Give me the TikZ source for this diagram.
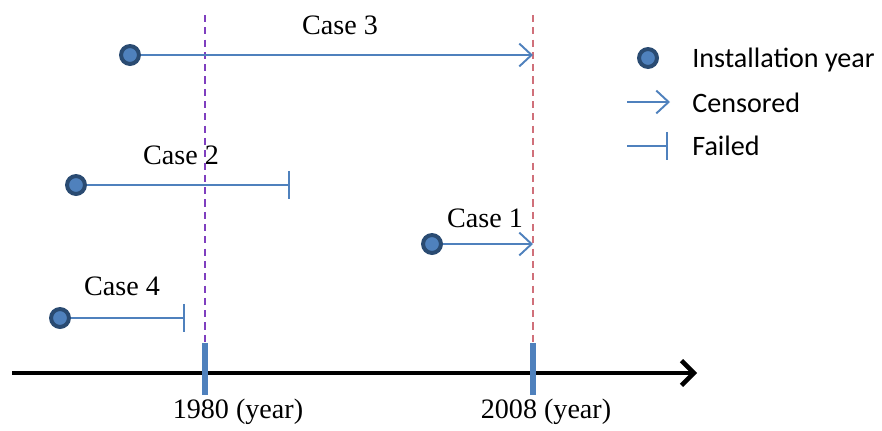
\documentclass[tikz,border=0pt]{standalone}
\usepackage{fontspec}
\setmainfont{Liberation Serif}
\newfontfamily\legendfont{Carlito}
\usetikzlibrary{arrows.meta}
\definecolor{lineblue}{HTML}{4F81BD}
\definecolor{rimblue}{HTML}{2A4B72}
\definecolor{dashpurple}{HTML}{7F3FBF}
\definecolor{dashred}{HTML}{D0707A}
\begin{document}
\begin{tikzpicture}[x=0.02cm,y=-0.02cm,
	inst/.style = {circle, draw=rimblue, fill=lineblue, line width=4*0.567pt, minimum size=18*0.567pt, inner sep=0pt},
	censor/.style = {draw=lineblue, line width=1.3pt, -{Straight Barb[length=7pt,width=13pt,line width=1.1pt]}},
	failed/.style = {draw=lineblue, line width=0.8pt, -{Bar[width=16pt,line width=1.1pt]}},
	case/.style = {font=\fontsize{16}{19}\selectfont, inner sep=0pt},
	legend/.style = {font=\legendfont\fontsize{16}{19}\selectfont, anchor=west, inner sep=0pt},
	year/.style = {dash pattern=on 4pt off 3pt, line width=0.7pt},
	tick/.style = {draw=lineblue, line width=3pt}]
	\useasboundingbox (0,0) rectangle (882,430);
	
	% reference years
	\coordinate (y1top) at (205,15);
	\coordinate (y1bot) at (205,345);
	\coordinate (y2top) at (533,15);
	\coordinate (y2bot) at (533,345);
	\draw[year, dashpurple] (y1top) -- (y1bot);
	\draw[year, dashred] (y2top) -- (y2bot);
	
	% time axis
	\coordinate (ax0) at (12,373);
	\coordinate (ax1) at (697,373);
	\draw[line width=2.8pt, -{Straight Barb[length=7pt,width=14pt,line width=2.6pt]}] (ax0) -- (ax1);
	\coordinate (t1a) at (205,343);
	\coordinate (t1b) at (205,395);
	\coordinate (t2a) at (533,343);
	\coordinate (t2b) at (533,395);
	\draw[tick] (t1a) -- (t1b);
	\draw[tick] (t2a) -- (t2b);
	\node[case] (lab1980) at (238,412) {1980 (year)};
	\node[case] (lab2008) at (546,412) {2008 (year)};
	
	% case 3
	\node[inst] (s3) at (130,55) {};
	\coordinate (e3) at (533,55);
	\draw[censor] (s3) -- (e3);
	\node[case] (c3) at (340,25) {Case 3};
	
	% case 2
	\node[inst] (s2) at (76,185) {};
	\coordinate (e2) at (290,185);
	\draw[failed] (s2) -- (e2);
	\node[case] (c2) at (181,155) {Case 2};
	
	% case 1
	\node[inst] (s1) at (432,244) {};
	\coordinate (e1) at (533,244);
	\draw[censor] (s1) -- (e1);
	\node[case] (c1) at (485,218) {Case 1};
	
	% case 4
	\node[inst] (s4) at (60,318) {};
	\coordinate (e4) at (185,318);
	\draw[failed] (s4) -- (e4);
	\node[case] (c4) at (122,286) {Case 4};
	
	% legend
	\node[inst] (k1) at (648,58) {};
	\node[legend] (k1t) at (692,60) {Installation year};
	\coordinate (k2a) at (627,102);
	\coordinate (k2b) at (670,102);
	\draw[censor] (k2a) -- (k2b);
	\node[legend] (k2t) at (692,103) {Censored};
	\coordinate (k3a) at (627,146);
	\coordinate (k3b) at (668,146);
	\draw[failed] (k3a) -- (k3b);
	\node[legend] (k3t) at (692,146) {Failed};
\end{tikzpicture}
\end{document}
